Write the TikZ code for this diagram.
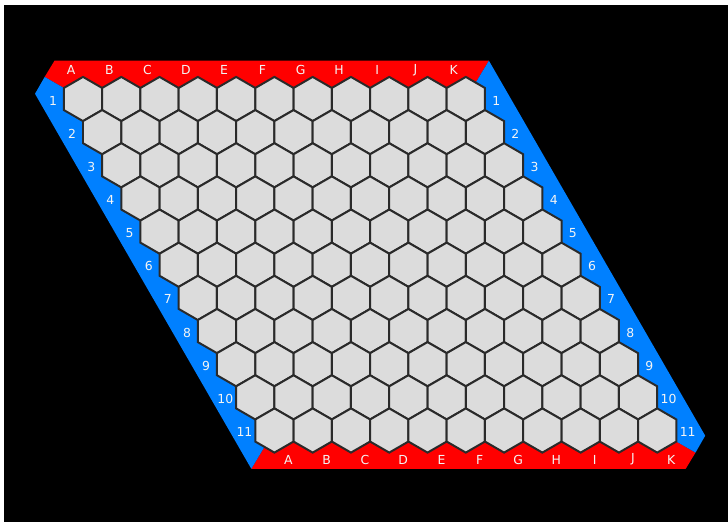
\documentclass[tikz,border=0pt]{standalone}
\usepackage{xcolor}
\usepackage{fontspec}
\setmainfont{DejaVu Sans}
\usetikzlibrary{calc}
\definecolor{redside}{HTML}{FF0000}
\definecolor{blueside}{HTML}{0080FF}
\definecolor{cellfill}{HTML}{DCDCDC}
\definecolor{cellline}{HTML}{2A2A2A}
\definecolor{labeltxt}{HTML}{F4F4F4}
\tikzset{
  cell/.style={fill=cellfill, draw=cellline, line width=1.7pt, line join=miter},
  edgelabel/.style={labeltxt, inner sep=0pt, font=\fontsize{10.6}{12}\selectfont}
}
\def\hexR{22.1}

\begin{document}
\begin{tikzpicture}[x=0.03cm, y=-0.03cm]
    \useasboundingbox (0,0) rectangle (728,522);
    \fill[white] (0,0) rectangle (728,522);
    \fill[black] (4,5) rectangle (728,522);
    % cell centres, column c, row r
    \foreach \r in {0,...,10}
      \foreach \c in {0,...,10}
        \coordinate (c-\c-\r) at ({83+38.28*\c+19.14*\r},{99+33.15*\r});
    % outer corners of the board
    \coordinate (tl) at (54.5,60.7);
    \coordinate (tr) at (488.9,60.7);
    \coordinate (mtl) at (44.7,76.9);
    \coordinate (ltl) at (35.0,93.8);
    \coordinate (bl) at (251.3,468.8);
    \coordinate (br) at (685.7,468.8);
    \coordinate (mbr) at (695.5,452.6);
    \coordinate (rbr) at (705.2,435.7);
    \fill[redside] (tl) -- (tr) -- (c-10-0) -- (c-0-0) -- (mtl) -- cycle;
    \fill[redside] (bl) -- (c-0-10) -- (c-10-10) -- (mbr) -- (br) -- cycle;
    \fill[blueside] (mtl) -- (c-0-0) -- (c-0-10) -- (bl) -- (ltl) -- cycle;
    \fill[blueside] (tr) -- (rbr) -- (mbr) -- (c-10-10) -- (c-10-0) -- cycle;
    \foreach \r in {0,...,10}
      \foreach \c in {0,...,10}
        \draw[cell] (c-\c-\r) +(30:\hexR) -- +(90:\hexR) -- +(150:\hexR)
          -- +(210:\hexR) -- +(270:\hexR) -- +(330:\hexR) -- cycle;
    \foreach \c/\l in {0/A,1/B,2/C,3/D,4/E,5/F,6/G,7/H,8/I,9/J,10/K} {
      \node[edgelabel] (top-\l) at ($(c-\c-0)+(-12,-29)$) {\l};
      \node[edgelabel] (bot-\l) at ($(c-\c-10)+(14,29)$) {\l};
    }
    \foreach \r [evaluate=\r as \n using int(\r+1)] in {0,...,10} {
      \node[edgelabel] (lft-\n) at ($(c-0-\r)+(-30,1.5)$) {\n};
      \node[edgelabel] (rgt-\n) at ($(c-10-\r)+(30.5,1.5)$) {\n};
    }
  \end{tikzpicture}
\end{document}
